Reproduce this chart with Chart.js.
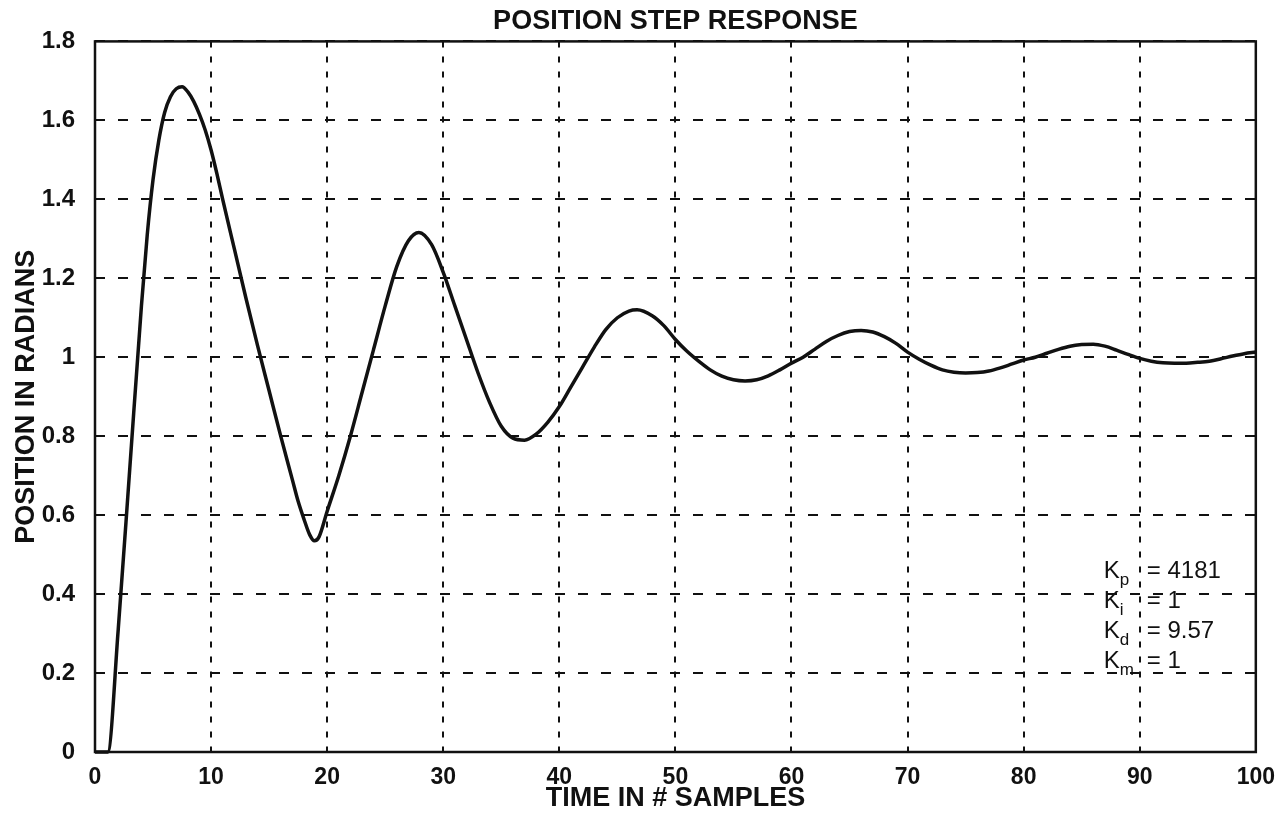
<!DOCTYPE html>
<html>
<head>
<meta charset="utf-8">
<script src="https://cdn.jsdelivr.net/npm/chart.js@4.4.1/dist/chart.umd.min.js"></script>
<style>
html,body{margin:0;padding:0;background:#fff}
canvas{display:block}
</style>
</head>
<body>
<canvas id="grafica" width="1287" height="815"></canvas>
<script>
// muestras (tiempo en # muestras, posicion en radianes)
const tiempo = [0, 1.1, 2, 3, 4, 4.5, 5, 5.5, 6, 6.5, 7, 7.5, 8, 8.5, 9, 9.5, 10, 10.5, 11, 12, 13, 14, 15, 16, 17, 17.5, 18, 18.5, 18.9, 19.3,
  20, 21, 22, 23, 24, 25, 26, 27, 27.9, 29, 30, 31, 32, 33, 34, 35, 36, 37,
  38, 39, 40, 41, 42, 43, 44, 45, 46, 46.7, 48, 49, 50, 51, 52, 53, 54, 55, 56, 57, 58, 59, 60,
  61, 62, 63, 64, 65, 66, 67, 68, 69, 70, 71, 72, 73, 74, 75, 76, 77, 78, 79, 80,
  81, 82, 83, 84, 85, 86, 87, 88, 89, 90, 91, 92, 93, 94, 95, 96, 97, 98, 99, 100]
const posicion = [0, 0, 0.31, 0.72, 1.13, 1.31, 1.45, 1.55, 1.62, 1.66, 1.68, 1.685, 1.672, 1.648, 1.615, 1.575, 1.525, 1.465, 1.4, 1.275, 1.15, 1.03, 0.915, 0.8, 0.69, 0.635, 0.59, 0.55, 0.535, 0.545,
  0.61, 0.70, 0.80, 0.91, 1.02, 1.13, 1.23, 1.295, 1.316, 1.285, 1.215, 1.13, 1.045, 0.96, 0.885, 0.825, 0.795, 0.79,
  0.805, 0.835, 0.875, 0.925, 0.975, 1.025, 1.07, 1.10, 1.117, 1.12, 1.105, 1.08, 1.045, 1.015, 0.99, 0.968, 0.952, 0.943, 0.94, 0.943, 0.953, 0.968, 0.985,
  1.0, 1.02, 1.04, 1.055, 1.065, 1.068, 1.064, 1.052, 1.035, 1.013, 0.995, 0.98, 0.968, 0.962, 0.96, 0.961, 0.965, 0.973, 0.983, 0.993,
  1.0, 1.01, 1.02, 1.028, 1.032, 1.033, 1.028, 1.018, 1.007, 0.997, 0.99, 0.986, 0.985, 0.985, 0.987, 0.99, 0.996, 1.003, 1.009, 1.013]

const ticksX = [0, 10, 20, 30, 40, 50, 60, 70, 80, 90, 100]
const ticksY = [0, 0.2, 0.4, 0.6, 0.8, 1, 1.2, 1.4, 1.6, 1.8]

const ganancias = [
  ['K', 'p', '= 4181'],
  ['K', 'i', '= 1'],
  ['K', 'd', '= 9.57'],
  ['K', 'm', '= 1']
]

const fuente = "'Liberation Sans', Arial, Helvetica, sans-serif"
const negro = '#111'

// marco alrededor del area de la grafica
const marco = {
  id: 'marco',
  afterDatasetsDraw(chart) {
    const a = chart.chartArea
    const ctx = chart.ctx
    ctx.save()
    ctx.setLineDash([])
    ctx.lineWidth = 2.5
    ctx.strokeStyle = negro
    ctx.strokeRect(a.left, a.top, a.right - a.left, a.bottom - a.top)
    ctx.restore()
  }
}

// texto de las ganancias
const textoGanancias = {
  id: 'textoGanancias',
  afterDraw(chart) {
    const ctx = chart.ctx
    const x0 = chart.scales.x.getPixelForValue(86.9)
    const y0 = chart.scales.y.getPixelForValue(0.441)
    ctx.save()
    ctx.fillStyle = negro
    ctx.textBaseline = 'alphabetic'
    ganancias.forEach((g, i) => {
      const y = y0 + i * 30
      ctx.font = '24px ' + fuente
      ctx.fillText(g[0], x0, y)
      const w = ctx.measureText(g[0]).width
      ctx.font = '17px ' + fuente
      ctx.fillText(g[1], x0 + w, y + 7)
      ctx.font = '24px ' + fuente
      ctx.fillText(g[2], x0 + 43, y)
    })
    ctx.restore()
  }
}

const grafica = document.getElementById('grafica').getContext('2d')

const myChart = new Chart(grafica, {
  type: 'line',
  data: {
    datasets: [{
      label: 'Posicion',
      data: tiempo.map((t, i) => ({x: t, y: posicion[i]})),
      borderColor: negro,
      borderWidth: 3.5,
      pointRadius: 0,
      cubicInterpolationMode: 'monotone',
      fill: false,
      clip: false
    }]
  },
  options: {
    responsive: false,
    animation: false,
    devicePixelRatio: 1,
    layout: {padding: {left: 0, right: 30, top: 0, bottom: 0}},
    plugins: {
      legend: {display: false},
      tooltip: {enabled: false},
      title: {
        display: true,
        text: 'POSITION STEP RESPONSE',
        color: negro,
        fullSize: false,
        font: {family: fuente, size: 27, weight: 'bold'},
        padding: {top: 5, bottom: 4}
      }
    },
    scales: {
      x: {
        type: 'linear',
        min: 0,
        max: 100,
        afterBuildTicks: s => { s.ticks = ticksX.map(v => ({value: v})) },
        afterFit: s => { s.height = 63 },
        grid: {color: negro, lineWidth: 2, drawTicks: false},
        border: {display: false, dash: [6, 9]},
        ticks: {
          color: negro,
          padding: 12,
          maxRotation: 0,
          font: {family: fuente, size: 23, weight: 'bold'},
          callback: v => String(v)
        },
        title: {
          display: true,
          text: 'TIME IN # SAMPLES',
          color: negro,
          font: {family: fuente, size: 27, weight: 'bold'},
          padding: {top: 0, bottom: 0}
        }
      },
      y: {
        type: 'linear',
        min: 0,
        max: 1.8,
        afterBuildTicks: s => { s.ticks = ticksY.map(v => ({value: v})) },
        afterFit: s => { s.width = 95 },
        grid: {color: negro, lineWidth: 2, drawTicks: false},
        border: {display: false, dash: [10, 13]},
        ticks: {
          color: negro,
          padding: 20,
          font: {family: fuente, size: 24, weight: 'bold'},
          callback: v => String(v)
        },
        title: {
          display: true,
          text: 'POSITION IN RADIANS',
          color: negro,
          font: {family: fuente, size: 27, weight: 'bold'},
          padding: {top: 10, bottom: 0}
        }
      }
    }
  },
  plugins: [marco, textoGanancias]
})
</script>
</body>
</html>
